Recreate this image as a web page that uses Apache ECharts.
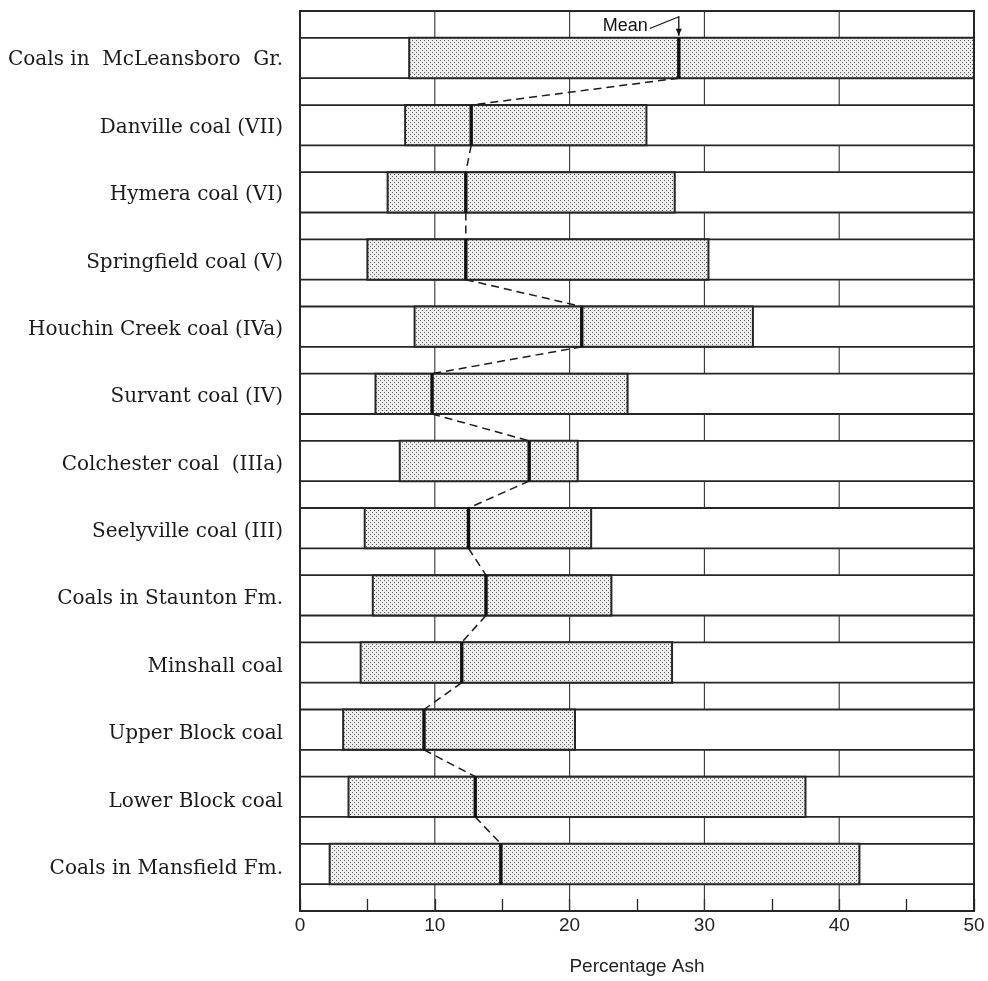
<!DOCTYPE html>
<html><head><meta charset="utf-8">
<script src="https://cdn.jsdelivr.net/npm/echarts@6/dist/echarts.min.js"></script>
<style>html,body{margin:0;padding:0;background:#fff}#c{width:988px;height:981px}</style>
</head><body><div id="c"></div>
<script>
// ---- data ----
const categories = [
  'Coals in  McLeansboro  Gr.',
  'Danville coal (VII)',
  'Hymera coal (VI)',
  'Springfield coal (V)',
  'Houchin Creek coal (IVa)',
  'Survant coal (IV)',
  'Colchester coal  (IIIa)',
  'Seelyville coal (III)',
  'Coals in Staunton Fm.',
  'Minshall coal',
  'Upper Block coal',
  'Lower Block coal',
  'Coals in Mansfield Fm.'
];
const minAsh  = [8.1, 7.8, 6.5, 5.0, 8.5, 5.6, 7.4, 4.8, 5.4, 4.5, 3.2, 3.6, 2.2];
const meanAsh = [28.1, 12.7, 12.3, 12.3, 20.9, 9.8, 17.0, 12.5, 13.8, 12.0, 9.2, 13.0, 14.9];
const maxAsh  = [50.0, 25.7, 27.8, 30.3, 33.6, 24.3, 20.6, 21.6, 23.1, 27.6, 20.4, 37.5, 41.5];
const xTickValues = [0, 10, 20, 30, 40, 50];
const gridLineValues = [10, 20, 30, 40];
const xTitle = 'Percentage Ash';
const meanLabel = 'Mean';

// ---- layout in row units: bar row 3, gap row 2 ----
const BAR = 3, GAP = 2, PERIOD = BAR + GAP;
const N = categories.length;
const YMAX = N * PERIOD + GAP;

const TOP = 11, BOTTOM_PX = 914, LEFT = 300, RIGHT_PX = 974;
const H = BOTTOM_PX - TOP;
const pxPerUnit = H / YMAX;
const labelTop = TOP + (GAP + BAR / 2 - PERIOD / 2) * pxPerUnit + 2;

// stipple pattern
const pat = document.createElement('canvas');
pat.width = 4; pat.height = 4;
(function () {
  const g = pat.getContext('2d');
  g.fillStyle = '#eeeeee'; g.fillRect(0, 0, 4, 4);
  g.fillStyle = '#5a5a5a';
  g.fillRect(0, 0, 1, 1); g.fillRect(2, 2, 1, 1);
})();
const stipple = { image: pat, repeat: 'repeat' };

const INK = '#262626';
const SANS = '"Liberation Sans", Arial, sans-serif';

const barData = categories.map((c, i) => [i, minAsh[i], meanAsh[i], maxAsh[i]]);
const gapData = Array.from({ length: N + 1 }, (_, k) => [k]);
const linkData = meanAsh.slice(0, -1).map((m, i) => [i, m, meanAsh[i + 1]]);

function renderBar(params, api) {
  const i = api.value(0), lo = api.value(1), mean = api.value(2), hi = api.value(3);
  const yTop = GAP + i * PERIOD, yBot = yTop + BAR;
  const a = api.coord([lo, yTop]), b = api.coord([hi, yBot]), m = api.coord([mean, yTop]);
  const children = [
    { type: 'rect', shape: { x: a[0], y: a[1], width: b[0] - a[0], height: b[1] - a[1] },
      style: { fill: stipple, stroke: INK, lineWidth: 2 } },
    { type: 'line', shape: { x1: m[0], y1: a[1], x2: m[0], y2: b[1] },
      style: { stroke: '#111', lineWidth: 3.4 } }
  ];
  if (i === 0) {
    const ay = api.coord([mean, 0])[1];
    children.push(
      { type: 'text', style: { text: meanLabel, x: m[0] - 31, y: (ay + a[1]) / 2 + 2, align: 'right', verticalAlign: 'middle',
        font: '18px ' + SANS, fill: '#111' } },
      { type: 'polyline', shape: { points: [[m[0] - 29, (ay + a[1]) / 2 + 4], [m[0] - 3, ay + 7], [m[0], ay + 6]] },
        style: { stroke: '#111', lineWidth: 1.2, fill: null } },
      { type: 'line', shape: { x1: m[0], y1: ay + 5, x2: m[0], y2: a[1] - 2 }, style: { stroke: '#111', lineWidth: 1.3 } },
      { type: 'polygon', shape: { points: [[m[0] - 3, a[1] - 9], [m[0] + 3, a[1] - 9], [m[0], a[1] - 2]] },
        style: { fill: '#111' } }
    );
  }
  return { type: 'group', children };
}

function renderGap(params, api) {
  const k = api.value(0);
  const y0 = k * PERIOD, y1 = y0 + GAP;
  const l0 = api.coord([0, y0]), r0 = api.coord([50, y0]);
  const l1 = api.coord([0, y1]), r1 = api.coord([50, y1]);
  const children = [
    { type: 'line', shape: { x1: l0[0], y1: l0[1], x2: r0[0], y2: r0[1] }, style: { stroke: INK, lineWidth: 1.8 } },
    { type: 'line', shape: { x1: l1[0], y1: l1[1], x2: r1[0], y2: r1[1] }, style: { stroke: INK, lineWidth: 1.8 } }
  ];
  gridLineValues.forEach(v => {
    const p = api.coord([v, y0]), q = api.coord([v, y1]);
    children.push({ type: 'line', shape: { x1: p[0], y1: p[1], x2: q[0], y2: q[1] }, style: { stroke: '#333', lineWidth: 1.1 } });
  });
  return { type: 'group', children };
}

function renderLink(params, api) {
  const i = api.value(0), m1 = api.value(1), m2 = api.value(2);
  const p = api.coord([m1, GAP + i * PERIOD + BAR]);
  const q = api.coord([m2, GAP + (i + 1) * PERIOD]);
  return { type: 'line', shape: { x1: p[0], y1: p[1], x2: q[0], y2: q[1] },
    style: { stroke: '#1a1a1a', lineWidth: 1.5, lineDash: [8, 5] } };
}

const chart = echarts.init(document.getElementById('c'), null, { renderer: 'canvas' });
chart.setOption({
  backgroundColor: '#fff',
  animation: false,
  grid: [
    { left: LEFT, right: 988 - RIGHT_PX, top: TOP, height: H, show: true, borderColor: INK, borderWidth: 2, backgroundColor: 'transparent' },
    { left: LEFT, right: 988 - RIGHT_PX, top: labelTop, height: N * PERIOD * pxPerUnit, show: false }
  ],
  xAxis: [
    { gridIndex: 0, type: 'value', min: 0, max: 50, interval: 5, position: 'bottom',
      axisLine: { show: true, onZero: false, lineStyle: { color: INK, width: 2 } },
      axisTick: { show: true, inside: true, length: 12, lineStyle: { color: INK, width: 1.3 } },
      axisLabel: { margin: 5, color: '#222', fontSize: 19, fontFamily: SANS,
        formatter: v => (xTickValues.indexOf(v) >= 0 ? String(v) : '') },
      splitLine: { show: false },
      name: xTitle, nameLocation: 'middle', nameGap: 46,
      nameTextStyle: { color: '#222', fontSize: 19, fontFamily: SANS } },
    { gridIndex: 1, type: 'value', min: 0, max: 50, show: false }
  ],
  yAxis: [
    { gridIndex: 0, type: 'value', min: 0, max: YMAX, inverse: true,
      axisLine: { show: false }, axisTick: { show: false }, axisLabel: { show: false }, splitLine: { show: false } },
    { gridIndex: 1, type: 'category', data: categories, inverse: true,
      axisLine: { show: false }, axisTick: { show: false }, splitLine: { show: false },
      axisLabel: { margin: 17, color: '#1a1a1a', fontSize: 20, fontFamily: '"DejaVu Serif", serif' } }
  ],
  series: [
    { type: 'custom', xAxisIndex: 0, yAxisIndex: 0, data: gapData, renderItem: renderGap, silent: true, z: 2 },
    { type: 'custom', xAxisIndex: 0, yAxisIndex: 0, data: barData, renderItem: renderBar, silent: true, z: 3 },
    { type: 'custom', xAxisIndex: 0, yAxisIndex: 0, data: linkData, renderItem: renderLink, silent: true, z: 4 }
  ]
});
</script>
</body></html>
